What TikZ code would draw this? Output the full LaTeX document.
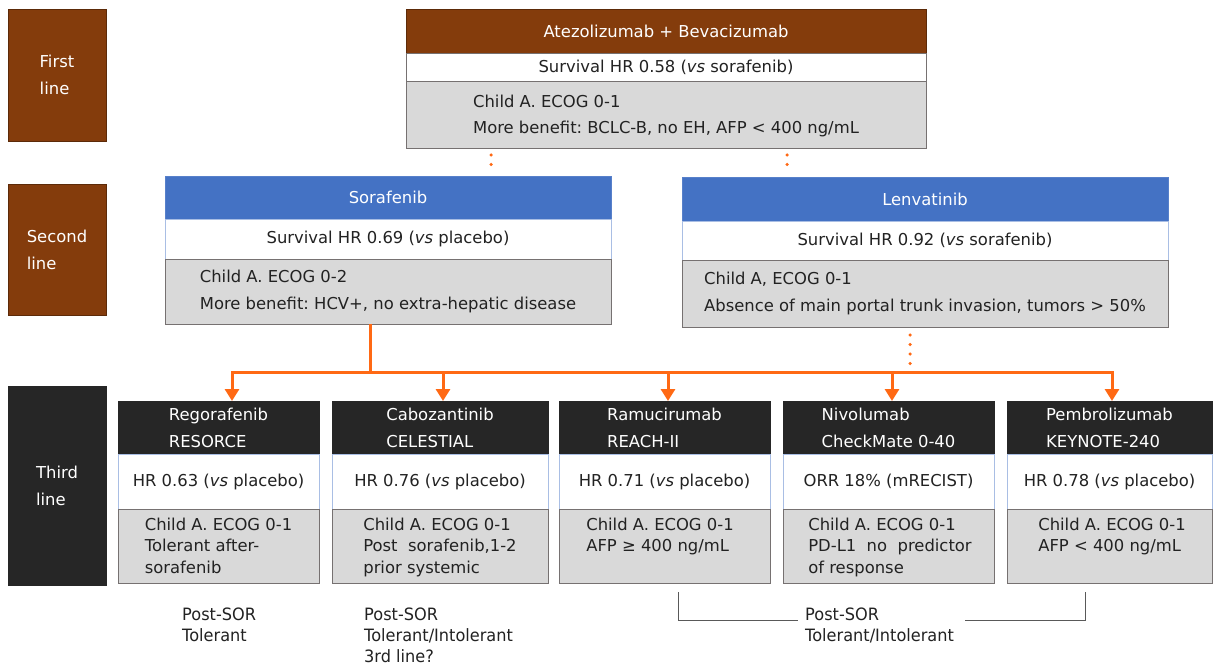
\documentclass[tikz,border=0pt]{standalone}
\usepackage{fontspec}
\setmainfont{DejaVu Sans}
\newfontfamily\condfont[FakeStretch=0.95]{DejaVu Sans}
\usetikzlibrary{arrows.meta}
\definecolor{brownhd}{HTML}{843C0C}
\definecolor{bluehd}{HTML}{4472C4}
\definecolor{darkhd}{HTML}{262626}
\definecolor{grayrow}{HTML}{D9D9D9}
\definecolor{grayedge}{HTML}{767171}
\definecolor{lightedge}{HTML}{A9BEE4}
\definecolor{orng}{RGB}{255,105,20}
\definecolor{txt}{HTML}{222222}
\definecolor{brk}{HTML}{595959}
\frenchspacing
\begin{document}
\begin{tikzpicture}[x=1pt,y=-1pt,
  cellbox/.style={rectangle, anchor=north west, inner sep=0pt, outer sep=0pt,
    font=\fontsize{16.4}{27}\selectfont, align=left},
  hbrown/.style={cellbox, fill=brownhd, draw=brownhd!70!black, line width=0.8pt, text=white},
  hblue/.style={cellbox, fill=bluehd, draw=bluehd!90!white, line width=0.8pt, text=white},
  hdark/.style={cellbox, fill=darkhd, draw=darkhd, line width=0.8pt, text=white},
  wrowbox/.style={cellbox, fill=white, draw=lightedge, line width=0.8pt, text=txt},
  grrowbox/.style={cellbox, fill=grayrow, draw=grayedge, line width=1pt, text=txt},
  gtext/.style={inner sep=0pt, anchor=north, align=left, text=txt,
    font=\fontsize{16.4}{21.5}\selectfont},
  orline/.style={draw=orng, line width=3pt},
  orarrow/.style={draw=orng, line width=3pt, -{Triangle[width=14pt,length=12pt]}},
  ordots/.style={draw=orng, line width=3.5pt, line cap=round, dash pattern=on 0pt off 9.5pt},
  notetext/.style={inner sep=0pt, anchor=north west, align=left, text=txt,
    font=\condfont\fontsize{17}{21}\selectfont},
  brline/.style={draw=brk, line width=0.9pt}
]
\useasboundingbox (0,0) rectangle (1213,666);
\fill[white] (0,0) rectangle (1213,666);

% ---- left labels
\node[hbrown, minimum width=98pt, minimum height=132pt] (L1) at (8,9) {First\\line};
\node[hbrown, minimum width=98pt, minimum height=131pt] (L2) at (8,184) {Second\\line};
\node[hdark, minimum width=98pt, minimum height=199pt] (L3) at (8,386) {Third\\line};

% ---- first line box
\node[hbrown, minimum width=520pt, minimum height=44pt] (atzh) at (406,9) {Atezolizumab + Bevacizumab};
\node[wrowbox, draw=grayedge, minimum width=520pt, minimum height=29pt] (atzw) at (406,53) {Survival HR 0.58 (\textit{vs} sorafenib)};
\node[grrowbox, minimum width=520pt, minimum height=67pt, font=\fontsize{16.4}{26}\selectfont] (atzg) at (406,82) {Child A. ECOG 0-1\\More benefit: BCLC-B, no EH, AFP < 400 ng/mL};

% ---- second line boxes
\node[hblue, minimum width=446pt, minimum height=43pt] (sorh) at (165,176) {Sorafenib};
\node[wrowbox, minimum width=446pt, minimum height=40pt] (sorw) at (165,219) {Survival HR 0.69 (\textit{vs} placebo)};
\node[grrowbox, minimum width=446pt, minimum height=65pt] (sorg) at (165,259) {Child A. ECOG 0-2\\More benefit: HCV+, no extra-hepatic disease};

\node[hblue, minimum width=486pt, minimum height=44pt] (lenh) at (682,177) {Lenvatinib};
\node[wrowbox, minimum width=486pt, minimum height=39pt] (lenw) at (682,221) {Survival HR 0.92 (\textit{vs} sorafenib)};
\node[grrowbox, minimum width=486pt, minimum height=67pt] (leng) at (682,260) {Child A, ECOG 0-1\\Absence of main portal trunk invasion, tumors > 50\%};

% ---- third line boxes
\node[hdark, minimum width=201pt, minimum height=53pt] (regh) at (118,401) {Regorafenib\\RESORCE};
\node[wrowbox, minimum width=201pt, minimum height=55pt] (regw) at (118,454) {HR 0.63 (\textit{vs} placebo)};
\node[grrowbox, minimum width=201pt, minimum height=74pt] (regg) at (118,509) {};
\node[gtext] (reggt) at (218.5,517.5) {Child A. ECOG 0-1\\Tolerant after-\\sorafenib};

\node[hdark, minimum width=216pt, minimum height=53pt] (cabh) at (332,401) {Cabozantinib\\CELESTIAL};
\node[wrowbox, minimum width=216pt, minimum height=55pt] (cabw) at (332,454) {HR 0.76 (\textit{vs} placebo)};
\node[grrowbox, minimum width=216pt, minimum height=74pt] (cabg) at (332,509) {};
\node[gtext] (cabgt) at (440,517.5) {Child A. ECOG 0-1\\Post\ \ sorafenib,1-2\\prior systemic};

\node[hdark, minimum width=211pt, minimum height=53pt] (ramh) at (559,401) {Ramucirumab\\REACH-II};
\node[wrowbox, minimum width=211pt, minimum height=55pt] (ramw) at (559,454) {HR 0.71 (\textit{vs} placebo)};
\node[grrowbox, minimum width=211pt, minimum height=74pt] (ramg) at (559,509) {};
\node[gtext] (ramgt) at (660,517.5) {Child A. ECOG 0-1\\AFP ≥ 400 ng/mL};

\node[hdark, minimum width=211pt, minimum height=53pt] (nivh) at (783,401) {Nivolumab\\CheckMate 0-40};
\node[wrowbox, minimum width=211pt, minimum height=55pt] (nivw) at (783,454) {ORR 18\% (mRECIST)};
\node[grrowbox, minimum width=211pt, minimum height=74pt] (nivg) at (783,509) {};
\node[gtext] (nivgt) at (890,517.5) {Child A. ECOG 0-1\\PD-L1 \ no \ predictor\\of response};

\node[hdark, minimum width=205pt, minimum height=53pt] (pemh) at (1007,401) {Pembrolizumab\\KEYNOTE-240};
\node[wrowbox, minimum width=205pt, minimum height=55pt] (pemw) at (1007,454) {HR 0.78 (\textit{vs} placebo)};
\node[grrowbox, minimum width=205pt, minimum height=74pt] (pemg) at (1007,509) {};
\node[gtext] (pemgt) at (1112,517.5) {Child A. ECOG 0-1\\AFP < 400 ng/mL};

% ---- connectors
\coordinate (d1a) at (491,155); \coordinate (d1b) at (491,165);
\coordinate (d2a) at (787,155); \coordinate (d2b) at (787,165);
\draw[ordots] (d1a) -- (d1b);
\draw[ordots] (d2a) -- (d2b);

\coordinate (j0) at (370,372);
\coordinate (jA) at (232,372);
\coordinate (jB) at (443,372);
\coordinate (jC) at (668,372);
\coordinate (jD) at (892,372);
\coordinate (jE) at (1112,372);
\coordinate (jL) at (910,370);
\draw[orline] (j0 |- sorg.south) -- (j0);
\draw[orline, line cap=rect] (jA) -- (jE);
\draw[orarrow] (jA) -- (jA |- regh.north);
\draw[orarrow] (jB) -- (jB |- cabh.north);
\draw[orarrow] (jC) -- (jC |- ramh.north);
\draw[orarrow] (jD) -- (jD |- nivh.north);
\draw[orarrow] (jE) -- (jE |- pemh.north);
\draw[ordots] ([yshift=-8pt]jL |- leng.south) -- (jL);

% ---- bottom notes
\node[notetext] (n1) at (182,608) {Post-SOR\\Tolerant};
\node[notetext] (n2) at (364,608) {Post-SOR\\Tolerant/Intolerant\\3rd line?};
\node[notetext] (n3) at (805,608) {Post-SOR\\Tolerant/Intolerant};
\coordinate (b1) at (678,592);
\coordinate (b2) at (678,620);
\coordinate (b3) at (798,620);
\coordinate (b4) at (965,620);
\coordinate (b5) at (1085,620);
\coordinate (b6) at (1085,592);
\draw[brline] (b1) -- (b2) -- (b3);
\draw[brline] (b4) -- (b5) -- (b6);
\end{tikzpicture}
\end{document}
